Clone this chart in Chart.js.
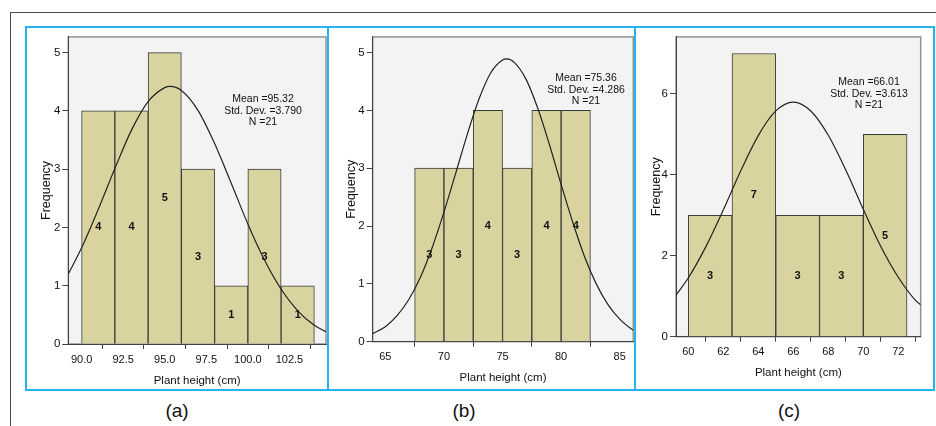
<!DOCTYPE html>
<html>
<head>
<meta charset="utf-8">
<script src="https://cdn.jsdelivr.net/npm/chart.js@4.4.1/dist/chart.umd.min.js"></script>
<style>
    body { margin: 0; width: 936px; height: 426px; position: relative; overflow: hidden; background: #fff;
           font-family: "Liberation Sans", Arial, sans-serif; color: #111; }
    .abs { position: absolute; }
    #frameTop { left: 10px; top: 12px; width: 926px; height: 0; border-top: 1.5px solid #4d4d4d; }
    #frameLeft { left: 10px; top: 12px; width: 0; height: 414px; border-left: 1.5px solid #4d4d4d; }
    #box { left: 25px; top: 26px; width: 906px; height: 361px; border: 2px solid #25b4ef; }
    .divider { top: 26px; width: 2px; height: 365px; background: #25b4ef; }
    canvas { position: absolute; }
    .stats { font-size: 10.5px; line-height: 11.5px; text-align: center; width: 120px; white-space: nowrap; }
    .tag { font-size: 19px; width: 60px; text-align: center; line-height: 22px; }
</style>
</head>
<body>
<div id="frameTop" class="abs"></div>
<div id="frameLeft" class="abs"></div>
<div id="box" class="abs"></div>
<div class="abs divider" style="left:327px"></div>
<div class="abs divider" style="left:634px"></div>

<canvas id="histA" width="300" height="360" style="left:27px;top:28px"></canvas>
<canvas id="histB" width="304" height="360" style="left:330px;top:28px"></canvas>
<canvas id="histC" width="297" height="360" style="left:636px;top:28px"></canvas>

<div id="statsA" class="abs stats" style="left:203px;top:93px"></div>
<div id="statsB" class="abs stats" style="left:526px;top:72px"></div>
<div id="statsC" class="abs stats" style="left:809px;top:76px"></div>

<div class="abs tag" style="left:147px;top:400px">(a)</div>
<div class="abs tag" style="left:434px;top:400px">(b)</div>
<div class="abs tag" style="left:759px;top:400px">(c)</div>

<script>
const FONT = '"Liberation Sans", Arial, sans-serif';

// (a) bins are 2 cm wide, given by their centres
const binsA = [91, 93, 95, 97, 99, 101, 103];
const countsA = [4, 4, 5, 3, 1, 3, 1];
const xTicksA = [90, 92.5, 95, 97.5, 100, 102.5];
const yTicksA = [0, 1, 2, 3, 4, 5];
const curveXA = [89.2, 90, 91, 92, 93, 94, 95, 95.32, 96, 97, 98, 99, 100, 101, 102, 103, 104, 104.7];
const curveYA = [1.20, 1.65, 2.31, 3.01, 3.67, 4.16, 4.40, 4.42, 4.35, 4.01, 3.44, 2.76, 2.06, 1.44, 0.94, 0.57, 0.32, 0.21];
const statsA = ['Mean =95.32', 'Std. Dev. =3.790', 'N =21'];

// (b) bins are 2.5 cm wide
const binsB = [68.75, 71.25, 73.75, 76.25, 78.75, 81.25];
const countsB = [3, 3, 4, 3, 4, 4];
const xTicksB = [65, 70, 75, 80, 85];
const yTicksB = [0, 1, 2, 3, 4, 5];
const curveXB = [63.92, 65, 66, 67, 68, 69, 70, 71, 72, 73, 74, 75, 75.36, 76, 77, 78, 79, 80, 81, 82, 83, 84, 85, 86, 86.16];
const curveYB = [0.14, 0.26, 0.45, 0.73, 1.12, 1.63, 2.24, 2.91, 3.59, 4.20, 4.65, 4.87, 4.89, 4.83, 4.54, 4.04, 3.41, 2.72, 2.06, 1.47, 1.00, 0.64, 0.39, 0.22, 0.20];
const statsB = ['Mean =75.36', 'Std. Dev. =4.286', 'N =21'];

// (c) bins are 2.5 cm wide
const binsC = [61.25, 63.75, 66.25, 68.75, 71.25];
const countsC = [3, 7, 3, 3, 5];
const xTicksC = [60, 62, 64, 66, 68, 70, 72];
const yTicksC = [0, 2, 4, 6];
const curveXC = [59.3, 60, 61, 62, 63, 64, 65, 66, 67, 68, 69, 70, 71, 72, 73, 73.28];
const curveYC = [1.03, 1.45, 2.22, 3.13, 4.10, 4.97, 5.58, 5.80, 5.58, 4.98, 4.12, 3.15, 2.23, 1.47, 0.89, 0.79];
const statsC = ['Mean =66.01', 'Std. Dev. =3.613', 'N =21'];

Chart.defaults.font.family = FONT;
Chart.defaults.color = '#111';

// grey plot panel behind the bars
const plotBox = {
    id: 'plotBox',
    beforeDraw(chart) {
        const { ctx, chartArea: a } = chart;
        ctx.save();
        ctx.fillStyle = '#f3f3f3';
        ctx.fillRect(a.left, a.top, a.right - a.left, a.bottom - a.top);
        ctx.strokeStyle = '#939393';
        ctx.lineWidth = 1.5;
        ctx.strokeRect(a.left, a.top, a.right - a.left, a.bottom - a.top);
        ctx.restore();
    }
};

function drawHist(id, o) {
    // count written half way up each bar, like SPSS does
    const barLabels = {
        id: 'barLabels',
        afterDatasetsDraw(chart) {
            const { ctx } = chart;
            const yScale = chart.scales.y;
            ctx.save();
            ctx.font = 'bold 11px ' + FONT;
            ctx.fillStyle = '#111';
            ctx.textAlign = 'center';
            ctx.textBaseline = 'middle';
            chart.getDatasetMeta(1).data.forEach((bar, i) => {
                ctx.fillText(String(o.counts[i]), bar.x, yScale.getPixelForValue(o.counts[i] / 2));
            });
            ctx.restore();
        }
    };

    new Chart(document.getElementById(id), {
        type: 'bar',
        data: {
            datasets: [
                {
                    type: 'line',
                    data: o.curveX.map((x, i) => ({ x: x, y: o.curveY[i] })),
                    borderColor: '#222',
                    borderWidth: 1.2,
                    pointRadius: 0,
                    cubicInterpolationMode: 'monotone',
                    order: 0
                },
                {
                    type: 'bar',
                    data: o.bins.map((x, i) => ({ x: x, y: o.counts[i] })),
                    backgroundColor: '#d9d49f',
                    borderColor: '#3a3a3a',
                    borderWidth: 1,
                    barThickness: 'flex',
                    barPercentage: 1,
                    categoryPercentage: 1,
                    order: 1
                }
            ]
        },
        options: {
            responsive: false,
            animation: false,
            devicePixelRatio: 1,
            layout: { padding: { left: 0, top: o.padTop, right: o.padRight, bottom: 0 } },
            plugins: { legend: { display: false }, tooltip: { enabled: false } },
            scales: {
                x: {
                    type: 'linear',
                    offset: false,
                    min: o.xMin,
                    max: o.xMax,
                    afterBuildTicks: s => { s.ticks = o.xTicks.map(v => ({ value: v })); },
                    afterFit: s => { s.height = o.xAxisH; },
                    ticks: {
                        autoSkip: false, maxRotation: 0, padding: 4,
                        font: { size: 11 },
                        callback: v => o.xFmt(v)
                    },
                    grid: { display: true, drawOnChartArea: false, drawTicks: true, tickLength: 5, color: '#444' },
                    border: { display: true, color: '#444', width: 1 },
                    title: { display: true, text: 'Plant height (cm)', font: { size: 11.5 },
                             padding: { top: 0, bottom: o.xTitlePad } }
                },
                y: {
                    type: 'linear',
                    min: 0,
                    max: o.yMax,
                    afterBuildTicks: s => { s.ticks = o.yTicks.map(v => ({ value: v })); },
                    afterFit: s => { s.width = o.yAxisW; },
                    ticks: { padding: 2, font: { size: 11.5 } },
                    grid: { display: true, drawOnChartArea: false, drawTicks: true, tickLength: 6, color: '#444' },
                    border: { display: true, color: '#444', width: 1 },
                    title: { display: true, text: 'Frequency', font: { size: 12.5 },
                             padding: { top: o.yTitlePad, bottom: 0 } }
                }
            }
        },
        plugins: [plotBox, barLabels]
    });

    document.getElementById(o.statsId).innerHTML = o.stats.join('<br>');
}

drawHist('histA', {
    bins: binsA, counts: countsA, xTicks: xTicksA, yTicks: yTicksA,
    curveX: curveXA, curveY: curveYA, stats: statsA, statsId: 'statsA',
    xMin: 89.2, xMax: 104.7, yMax: 5.27, xFmt: v => v.toFixed(1),
    padTop: 8, padRight: 1, yAxisW: 41.3, xAxisH: 44, yTitlePad: 12.2, xTitlePad: 0
});
drawHist('histB', {
    bins: binsB, counts: countsB, xTicks: xTicksB, yTicks: yTicksB,
    curveX: curveXB, curveY: curveYB, stats: statsB, statsId: 'statsB',
    xMin: 63.92, xMax: 86.16, yMax: 5.27, xFmt: v => String(v),
    padTop: 8, padRight: 0.7, yAxisW: 42.7, xAxisH: 46.3, yTitlePad: 14.2, xTitlePad: 3.4
});
drawHist('histC', {
    bins: binsC, counts: countsC, xTicks: xTicksC, yTicks: yTicksC,
    curveX: curveXC, curveY: curveYC, stats: statsC, statsId: 'statsC',
    xMin: 59.3, xMax: 73.28, yMax: 7.41, xFmt: v => String(v),
    padTop: 8, padRight: 12.3, yAxisW: 40, xAxisH: 51.3, yTitlePad: 13.2, xTitlePad: 8.4
});
</script>
</body>
</html>
